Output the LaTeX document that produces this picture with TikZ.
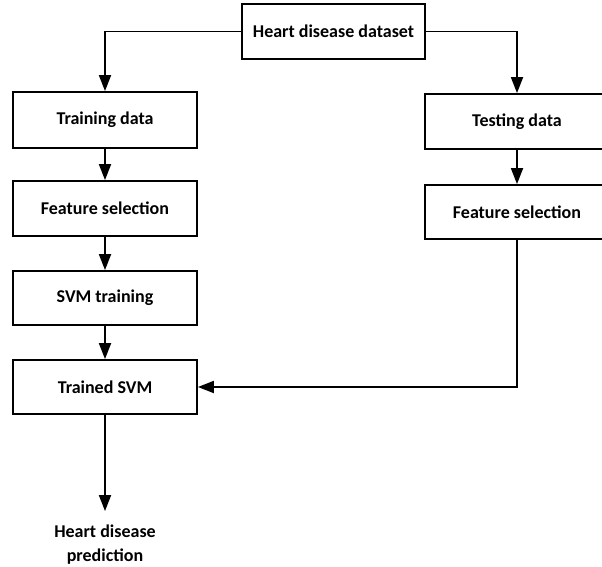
\documentclass[tikz,border=0pt]{standalone}
\usepackage{fontspec}
\setmainfont{Carlito}
\usetikzlibrary{arrows.meta}
\begin{document}
\begin{tikzpicture}[x=1pt,y=-1pt,
  box/.style={draw, line width=1.8pt, minimum width=184pt, inner sep=0pt, font=\fontsize{18}{21}\selectfont\bfseries, align=center},
  arr/.style={line width=1.8pt, -{Triangle[length=16pt,width=12pt]}}]
\useasboundingbox (0,0) rectangle (602,567);
\node[box, minimum width=183pt, minimum height=55pt] (heart) at (333.5,31.5) {Heart disease dataset};
\node[box, minimum height=56pt] (train) at (105,120) {Training data};
\node[box, minimum height=55pt] (fsl) at (105,208.5) {Feature selection};
\node[box, minimum height=54pt] (svmt) at (105,298) {SVM training};
\node[box, minimum height=54pt] (tsvm) at (105,387) {Trained SVM};
\node[box, minimum height=55pt] (test) at (517,121.5) {Testing data};
\node[box, minimum height=54pt] (fsr) at (517,212) {Feature selection};
\node[font=\fontsize{18}{24}\selectfont\bfseries, align=center, inner sep=0pt] (pred) at (105,545) {Heart disease\\prediction};
\draw[arr] (heart.west) -| (train.north);
\draw[arr] (heart.east) -| (test.north);
\draw[arr] (train) -- (fsl);
\draw[arr] (fsl) -- (svmt);
\draw[arr] (svmt) -- (tsvm);
\draw[arr] (test) -- (fsr);
\draw[arr] (fsr.south) |- (tsvm.east);
\draw[arr] (tsvm.south) -- ([yshift=14pt]pred.north);
\end{tikzpicture}
\end{document}
